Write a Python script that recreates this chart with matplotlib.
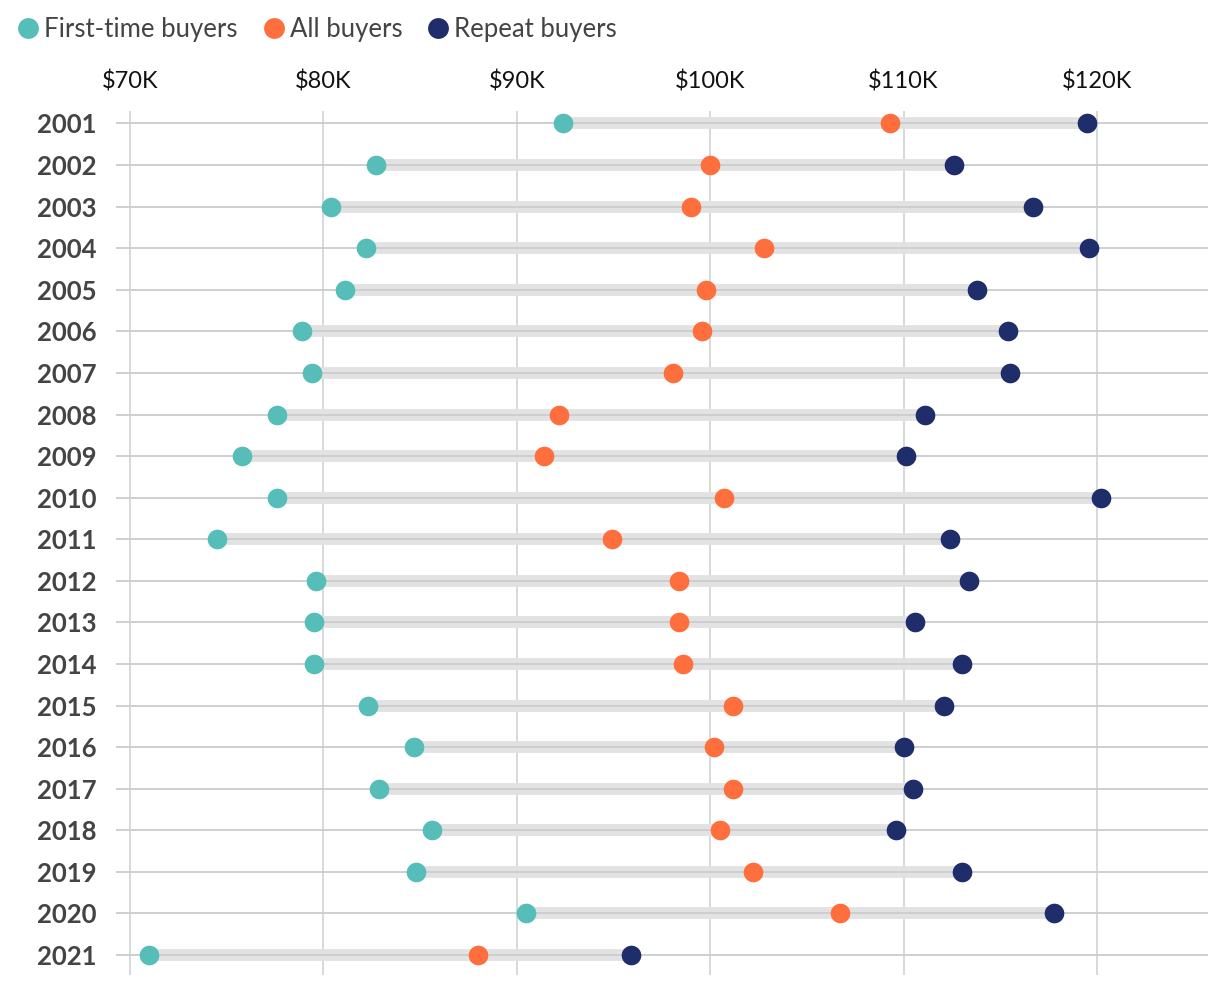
import matplotlib
matplotlib.use("Agg")
import matplotlib.pyplot as plt
from matplotlib.lines import Line2D

years = [str(y) for y in range(2001, 2022)]
first_time = [92.4, 82.7, 80.4, 82.2, 81.1, 78.9, 79.4, 77.6, 75.8, 77.6, 74.5,
              79.6, 79.5, 79.5, 82.3, 84.7, 82.9, 85.6, 84.8, 90.5, 71.0]
all_buyers = [109.3, 100.0, 99.0, 102.8, 99.8, 99.6, 98.1, 92.2, 91.4, 100.7, 94.9,
              98.4, 98.4, 98.6, 101.2, 100.2, 101.2, 100.5, 102.2, 106.7, 88.0]
repeat = [119.5, 112.6, 116.7, 119.6, 113.8, 115.4, 115.5, 111.1, 110.1, 120.2, 112.4,
          113.4, 110.6, 113.0, 112.1, 110.0, 110.5, 109.6, 113.0, 117.8, 95.9]
xticks = [70, 80, 90, 100, 110, 120]
xtick_labels = ["$70K", "$80K", "$90K", "$100K", "$110K", "$120K"]
series_names = ["First-time buyers", "All buyers", "Repeat buyers"]
colors = ["#56bdb8", "#ff6e3d", "#1f2d6b"]

plt.rcParams['font.family'] = ['Lato', 'DejaVu Sans']

fig = plt.figure(figsize=(12.2, 9.84), dpi=100)
ax = fig.add_axes([116/1220, 1 - 975/984, (1208-116)/1220, (975-111)/984])

ypos = list(range(len(years)))
for xv in xticks:
    ax.axvline(xv, color="#d3d7d7", lw=1.3, zorder=1)
for i in ypos:
    lo = min(first_time[i], all_buyers[i], repeat[i])
    hi = max(first_time[i], all_buyers[i], repeat[i])
    ax.plot([lo, hi], [i, i], color="#e2e2e2", lw=8.5, solid_capstyle="butt", zorder=2)
for i in ypos:
    ax.axhline(i, color="#c9cdcd", lw=1.3, zorder=3)

for vals, c in zip([first_time, all_buyers, repeat], colors):
    ax.scatter(vals, ypos, s=200, color=c, zorder=5, linewidths=0)

ax.set_xlim(69.28, 125.74)
ax.set_ylim(20.48, -0.3)
ax.set_xticks(xticks)
ax.set_xticklabels(xtick_labels, fontsize=17, color="#111111")
ax.xaxis.tick_top()
ax.tick_params(axis="x", length=0, pad=13)
ax.set_yticks(ypos)
ax.set_yticklabels(years, fontsize=18.5, fontweight="bold", color="#444444")
ax.tick_params(axis="y", length=0, pad=14)
for s in ax.spines.values():
    s.set_visible(False)

handles = [Line2D([], [], marker="o", ls="", markersize=15, color=c, markeredgewidth=0)
           for c in colors]
fig.legend(handles, series_names, loc="upper left", bbox_to_anchor=(-0.002, 1.001), ncol=3,
           frameon=False, fontsize=18.5, handletextpad=0.12, columnspacing=0.9,
           handlelength=1.0, labelcolor="#444444", borderaxespad=0.3)

fig.savefig("out.png", dpi=100, facecolor="white")
